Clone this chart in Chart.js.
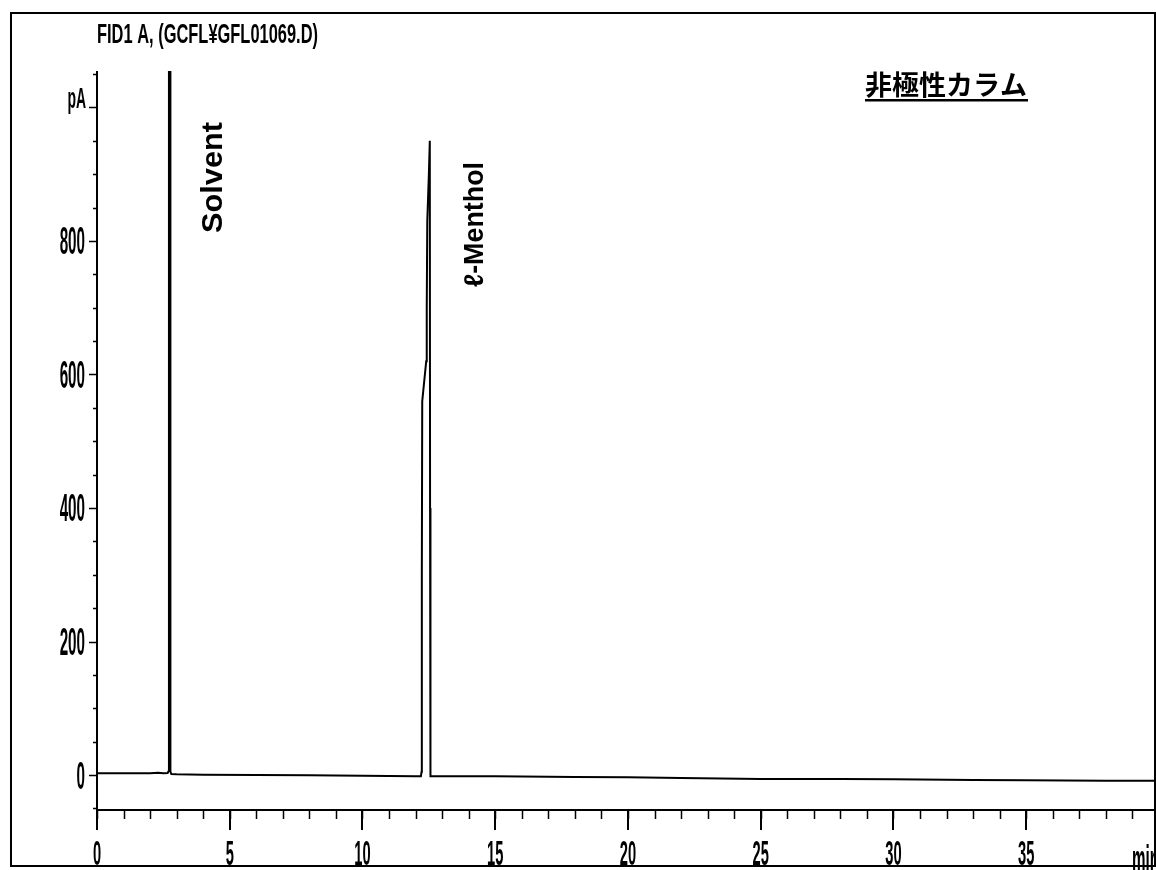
<!DOCTYPE html>
<html><head><meta charset="utf-8">
<script src="https://cdn.jsdelivr.net/npm/chart.js@4/dist/chart.umd.min.js"></script>
<style>html,body{margin:0;padding:0;background:#fff}canvas{display:block}</style>
</head><body>
<canvas id="c" width="1156" height="870"></canvas>
<script>
// ---- data ----
const times  = [0, 1, 2, 2.3, 2.5, 2.66, 2.7, 2.71, 2.755, 2.765, 2.8, 3, 4, 6, 8, 10, 11, 12, 12.2, 12.225, 12.235, 12.25, 12.4, 12.42, 12.44, 12.5, 12.535, 12.545, 12.56, 12.6, 13, 15, 18, 20, 22, 25, 28, 30, 33, 35, 38, 39.85];
const signal = [2.5, 2.5, 2.5, 3.5, 2.5, 3, 6, 1150, 1150, 5, 1.5, 1, 0.5, 0, -0.5, -1, -1.5, -2, -2, 5, 300, 560, 620, 700, 830, 900, 950, 400, -2, -2, -2, -2, -3, -3.5, -4.5, -6, -6, -6.5, -7.5, -8, -8.5, -8.5];
const xMajorTicks = [0, 5, 10, 15, 20, 25, 30, 35];
const xTickLabels = ['0', '5', '10', '15', '20', '25', '30', '35'];
const xMinorTicks = [0,1,2,3,4,5,6,7,8,9,10,11,12,13,14,15,16,17,18,19,20,21,22,23,24,25,26,27,28,29,30,31,32,33,34,35,36,37,38,39];
const yMajorTicks = [0, 200, 400, 600, 800, 1000];
const yTickLabels = ['0', '200', '400', '600', '800', 'pA'];
const yMinorTicks = [-50,0,50,100,150,200,250,300,350,400,450,500,550,600,650,700,750,800,850,900,950,1000,1050];
const titleText = 'FID1 A, (GCFL¥GFL01069.D)';
const peakNames = ['Solvent', 'ℓ-Menthol'];
const columnLabel = '非極性カラム';
const xUnit = 'min';

function drawFitted(ctx, text, x, y, font, width, align, baseline) {
  ctx.save();
  ctx.font = font;
  ctx.textAlign = align || 'left';
  ctx.textBaseline = baseline || 'alphabetic';
  const w = ctx.measureText(text).width;
  ctx.translate(x, y);
  ctx.scale(width / w, 1);
  ctx.fillText(text, 0, 0);
  ctx.restore();
}
function drawScaled(ctx, text, x, y, font, sx, align) {
  ctx.save();
  ctx.font = font;
  ctx.textAlign = align;
  ctx.textBaseline = 'alphabetic';
  ctx.translate(x, y);
  ctx.scale(sx, 1);
  ctx.fillText(text, 0, 0);
  ctx.restore();
}

const decor = {
  id: 'decor',
  afterDraw(chart) {
    const ctx = chart.ctx;
    const xs = chart.scales.x, ys = chart.scales.y;
    const ca = chart.chartArea;
    ctx.save();
    ctx.fillStyle = '#000';
    ctx.strokeStyle = '#000';
    // outer frame
    ctx.lineWidth = 2;
    ctx.strokeRect(11, 13, 1144, 853);
    // axes lines
    ctx.lineWidth = 2;
    ctx.beginPath();
    ctx.moveTo(ca.left, ca.top); ctx.lineTo(ca.left, ca.bottom);
    ctx.moveTo(ca.left, ca.bottom); ctx.lineTo(ca.right, ca.bottom);
    ctx.stroke();
    // y ticks
    ctx.lineWidth = 1.5;
    ctx.beginPath();
    yMinorTicks.forEach(v => { const p = Math.round(ys.getPixelForValue(v)) + 0.5; ctx.moveTo(ca.left - 4, p); ctx.lineTo(ca.left, p); });
    yMajorTicks.forEach(v => { const p = Math.round(ys.getPixelForValue(v)) + 0.5; ctx.moveTo(ca.left - 8, p); ctx.lineTo(ca.left, p); });
    // x ticks
    xMinorTicks.forEach(v => { const p = Math.round(xs.getPixelForValue(v)) + 0.5; ctx.moveTo(p, ca.bottom); ctx.lineTo(p, ca.bottom + 9); });
    ctx.stroke();
    ctx.lineWidth = 2;
    ctx.beginPath();
    xMajorTicks.forEach(v => { const p = Math.round(xs.getPixelForValue(v)); ctx.moveTo(p, ca.bottom); ctx.lineTo(p, ca.bottom + 20); });
    ctx.stroke();
    // y labels
    yMajorTicks.forEach((v, i) => {
      const p = ys.getPixelForValue(v);
      if (yTickLabels[i] === 'pA') {
        drawScaled(ctx, 'pA', ca.left - 11, p + 1, 'bold 29px "Liberation Sans", Arial, sans-serif', 0.48, 'right');
      } else {
        drawScaled(ctx, yTickLabels[i], ca.left - 12, p + 13.5, 'bold 38px "Liberation Sans", Arial, sans-serif', 0.4, 'right');
      }
    });
    // x labels
    xMajorTicks.forEach((v, i) => {
      const p = xs.getPixelForValue(v);
      drawScaled(ctx, xTickLabels[i], p, 865, 'bold 35px "Liberation Sans", Arial, sans-serif', 0.42, 'center');
    });
    drawScaled(ctx, xUnit, 1132, 872, 'bold 38px "Liberation Sans", Arial, sans-serif', 0.4, 'left');
    // title
    drawFitted(ctx, titleText, 97, 43, 'bold 27px "Liberation Sans", Arial, sans-serif', 221, 'left');
    // peak names (rotated)
    ctx.save();
    ctx.translate(222, 233); ctx.rotate(-Math.PI / 2);
    drawFitted(ctx, peakNames[0], 0, 0, 'bold 30px "Liberation Sans", Arial, sans-serif', 111, 'left');
    ctx.restore();
    ctx.save();
    ctx.translate(483, 287); ctx.rotate(-Math.PI / 2);
    drawFitted(ctx, peakNames[1], 0, 0, 'bold 27px "Liberation Sans", "DejaVu Sans", Arial, sans-serif', 125, 'left');
    ctx.restore();
    // column label with underline
    drawFitted(ctx, columnLabel, 865, 95, 'bold 27px "Noto Sans CJK JP", sans-serif', 162, 'left');
    ctx.fillRect(865, 99, 163, 2.5);
    ctx.restore();
  }
};

new Chart(document.getElementById('c'), {
  type: 'line',
  data: {
    datasets: [{
      data: times.map((t, i) => ({ x: t, y: signal[i] })),
      borderColor: '#000',
      borderWidth: 2,
      pointRadius: 0,
      tension: 0,
      fill: false
    }]
  },
  options: {
    responsive: false,
    devicePixelRatio: 1,
    animation: false,
    events: [],
    layout: { padding: { left: 97, top: 71, right: 1, bottom: 60 } },
    scales: {
      x: { type: 'linear', min: 0, max: 39.85, display: false },
      y: { type: 'linear', min: -52.4, max: 1054.6, display: false }
    },
    plugins: { legend: { display: false }, tooltip: { enabled: false } }
  },
  plugins: [decor]
});
</script>
</body></html>
